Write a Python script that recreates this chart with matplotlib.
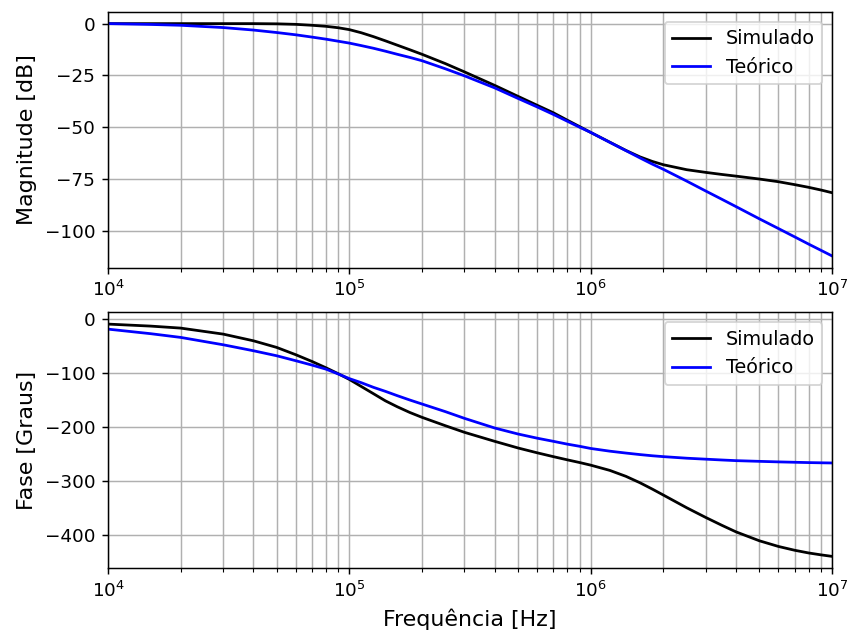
import matplotlib
matplotlib.use("Agg")
import matplotlib.pyplot as plt

# frequencias [Hz]
freq = [1e4, 1.5e4, 2e4, 3e4, 4e4, 5e4, 6e4, 7e4, 8e4, 9e4,
        1e5, 1.12e5, 1.26e5, 1.41e5, 1.58e5, 1.78e5, 2e5, 2.5e5, 3e5, 4e5,
        5e5, 6e5, 7e5, 8e5, 9e5, 1e6, 1.2e6, 1.4e6, 1.6e6, 1.8e6,
        2e6, 2.5e6, 3e6, 3.5e6, 4e6, 5e6, 6e6, 7e6, 8e6, 9e6, 1e7]

# magnitude [dB]
mag_sim = [0.0, 0.0, 0.0, 0.0, 0.0, -0.1, -0.35, -0.8, -1.3, -2.0,
           -2.9, -4.4, -6.3, -8.3, -10.4, -12.6, -14.8, -19.3, -23.3, -29.8,
           -35.1, -39.4, -43.0, -46.6, -49.7, -52.5, -57.2, -61.2, -64.3, -66.5,
           -68.1, -70.5, -71.8, -72.8, -73.6, -75.0, -76.3, -77.7, -79.0, -80.3, -81.6]
mag_teo = [0.0, -0.4, -0.8, -1.9, -3.1, -4.3, -5.4, -6.5, -7.5, -8.5,
           -9.4, -10.6, -11.9, -13.3, -14.8, -16.3, -17.9, -21.8, -25.2, -31.0,
           -36.1, -40.2, -43.8, -47.1, -50.0, -52.5, -57.3, -61.3, -64.8, -67.8,
           -70.3, -76.0, -80.8, -84.8, -88.3, -94.2, -98.9, -102.9, -106.4, -109.4, -112.1]

# fase [graus]
fase_sim = [-9.8, -13.5, -17.2, -28.3, -40.6, -52.9, -66.4, -78.8, -90.5, -101.5,
            -112.0, -125.0, -138.5, -151.5, -162.5, -173.0, -182.0, -197.5, -209.7, -226.3,
            -238.6, -247.5, -254.6, -260.5, -265.5, -270.3, -280.0, -291.0, -302.8, -314.5,
            -325.5, -349.0, -367.0, -381.5, -393.5, -410.0, -420.5, -427.5, -432.5, -436.0, -438.8]
fase_teo = [-19.1, -27.5, -34.4, -48.0, -59.0, -68.3, -77.5, -85.5, -93.0, -102.0,
            -110.5, -118.0, -126.7, -134.0, -142.0, -150.0, -157.4, -171.5, -183.9, -201.7,
            -212.8, -220.5, -226.3, -231.5, -235.5, -239.5, -244.5, -248.0, -250.8, -253.0,
            -254.6, -257.5, -259.3, -260.8, -262.0, -263.3, -264.3, -265.0, -265.6, -266.0, -266.3]

dpi = 132.5
fig, (ax1, ax2) = plt.subplots(2, 1, figsize=(848 / dpi, 632 / dpi), dpi=dpi)
fig.subplots_adjust(left=0.1274, right=0.9811, top=0.981, bottom=0.1013, hspace=0.176)

ax1.semilogx(freq, mag_sim, color="black", label="Simulado")
ax1.semilogx(freq, mag_teo, color="blue", label="Teórico")
ax1.set_ylabel("Magnitude [dB]", fontsize=12)
ax1.set_xlim(1e4, 1e7)
ax1.grid(True, which="both")
ax1.legend(loc="upper right", fontsize=10.4)

ax2.semilogx(freq, fase_sim, color="black", label="Simulado")
ax2.semilogx(freq, fase_teo, color="blue", label="Teórico")
ax2.set_ylabel("Fase [Graus]", fontsize=12)
ax2.set_xlabel("Frequência [Hz]", fontsize=12)
ax2.set_xlim(1e4, 1e7)
ax2.grid(True, which="both")
ax2.legend(loc="upper right", fontsize=10.4)

fig.savefig("out.png", dpi=dpi)
